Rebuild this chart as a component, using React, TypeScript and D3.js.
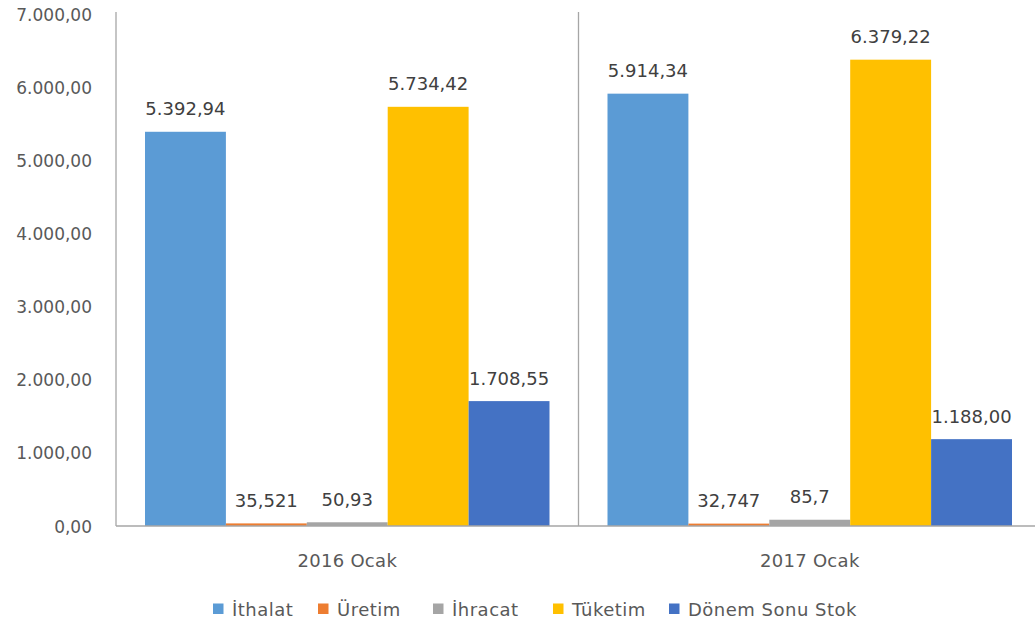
import React from "react";
import * as d3 from "d3";

const categories = ["2016 Ocak", "2017 Ocak"];
const seriesNames = ["İthalat", "Üretim", "İhracat", "Tüketim", "Dönem Sonu Stok"];
const seriesColors = ["#5B9BD5", "#ED7D31", "#A5A5A5", "#FFC000", "#4472C4"];
const values2016 = [5392.94, 35.521, 50.93, 5734.42, 1708.55];
const values2017 = [5914.34, 32.747, 85.7, 6379.22, 1188.0];
const labels2016 = ["5.392,94", "35,521", "50,93", "5.734,42", "1.708,55"];
const labels2017 = ["5.914,34", "32,747", "85,7", "6.379,22", "1.188,00"];
const yTicks = [0, 1000, 2000, 3000, 4000, 5000, 6000, 7000];
const yTickLabels = ["0,00", "1.000,00", "2.000,00", "3.000,00", "4.000,00", "5.000,00", "6.000,00", "7.000,00"];

const W = 1035;
const H = 625;
const left = 116;
const right = 1041;
const top = 14.3;
const bottom = 526;
const FONT = "'DejaVu Sans', sans-serif";

export default function App() {
  const values = [values2016, values2017];
  const labels = [labels2016, labels2017];
  const x0 = d3.scaleBand<string>().domain(categories).range([left, right]).padding(0);
  const groupPad = 29;
  const x1 = d3
    .scaleBand<string>()
    .domain(seriesNames)
    .range([groupPad, x0.bandwidth() - groupPad])
    .padding(0);
  const y = d3.scaleLinear().domain([0, 7000]).range([bottom, top]);

  const legendX = [213, 318, 433, 553, 669];

  return (
    <svg
      width={W}
      height={H}
      style={{ position: "absolute", left: 0, top: 0, background: "#fff" }}
      fontFamily={FONT}
    >
      <rect x={0} y={0} width={W} height={H} fill="#fff" />
      {/* y tick labels */}
      {yTicks.map((t, i) => (
        <text key={t} x={92} y={y(t) + 6.5} textAnchor="end" fontSize={17} fill="#595959">
          {yTickLabels[i]}
        </text>
      ))}
      {/* bars */}
      {categories.map((c, ci) => (
        <g key={c} transform={`translate(${x0(c)},0)`}>
          {seriesNames.map((s, si) => {
            const v = values[ci][si];
            const bx = x1(s)!;
            const bw = x1.bandwidth();
            return (
              <g key={s}>
                <rect x={bx} y={y(v)} width={bw} height={bottom - y(v)} fill={seriesColors[si]} />
                <text
                  x={bx + bw / 2}
                  y={y(v) - 16.5}
                  textAnchor="middle"
                  fontSize={18}
                  fill="#404040"
                >
                  {labels[ci][si]}
                </text>
              </g>
            );
          })}
        </g>
      ))}
      {/* axes */}
      <line x1={left} x2={left} y1={12} y2={bottom} stroke="#a6a6a6" strokeWidth={1.3} />
      <line x1={x0(categories[1])} x2={x0(categories[1])} y1={12} y2={bottom} stroke="#a6a6a6" strokeWidth={1.3} />
      <line x1={left} x2={right} y1={bottom} y2={bottom} stroke="#a6a6a6" strokeWidth={1.5} />
      {/* category labels */}
      {categories.map((c) => (
        <text
          key={c}
          x={x0(c)! + x0.bandwidth() / 2}
          y={567}
          textAnchor="middle"
          fontSize={18}
          letterSpacing={0.3}
          fill="#595959"
        >
          {c}
        </text>
      ))}
      {/* legend */}
      {seriesNames.map((s, i) => (
        <g key={s} transform={`translate(${legendX[i]},0)`}>
          <rect x={0} y={603.5} width={10.5} height={10.5} fill={seriesColors[i]} />
          <text x={19} y={616} fontSize={18} letterSpacing={0.5} fill="#595959">
            {s}
          </text>
        </g>
      ))}
    </svg>
  );
}
